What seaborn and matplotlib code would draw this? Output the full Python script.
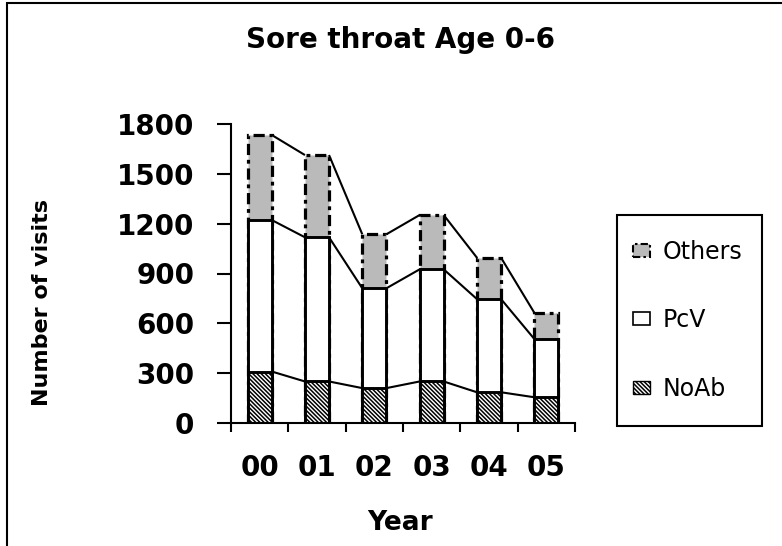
import numpy as np
import pandas as pd
import matplotlib
matplotlib.use('Agg')
import matplotlib.pyplot as plt
import seaborn as sns
from matplotlib import font_manager
from matplotlib.patches import Rectangle, Patch

# ---- data ----
years = ['00', '01', '02', '03', '04', '05']
noab = [310, 250, 210, 250, 185, 155]
pcv = [912, 868, 601, 675, 561, 351]
others = [512, 495, 325, 327, 249, 158]
series_names = ['Others', 'PcV', 'NoAb']
yticks = [0, 300, 600, 900, 1200, 1500, 1800]
title = 'Sore throat Age 0-6'
xlabel = 'Year'
ylabel = 'Number of visits'

sns.set_style('ticks')
plt.rcParams['font.family'] = ['DejaVu Sans']
plt.rcParams['hatch.linewidth'] = 1.1
plt.rcParams['hatch.color'] = 'black'
for k in ['text.color', 'axes.labelcolor', 'xtick.color', 'ytick.color', 'axes.edgecolor']:
    plt.rcParams[k] = 'black'

df = pd.DataFrame({'year': years, 'NoAb': noab, 'PcV': pcv, 'Others': others})
df['lvl_noab'] = df['NoAb']
df['lvl_pcv'] = df['NoAb'] + df['PcV']
df['lvl_total'] = df['lvl_pcv'] + df['Others']

W, H = 782, 546
fig = plt.figure(figsize=(W / 100, H / 100), dpi=100)
ax = fig.add_axes([231 / W, 1 - 423 / H, (575 - 231) / W, (423 - 124) / H])

bw = 0.42
dashdot = (0, (3.5, 1.5, 1.2, 1.5))
others_color = '#bababa'
hatch = '\\' * 8
common = dict(x='year', order=years, width=bw, saturation=1, errorbar=None,
              ax=ax, edgecolor='black')
sns.barplot(data=df, y='lvl_total', color=others_color, linewidth=2.3,
            linestyle=dashdot, **common)
sns.barplot(data=df, y='lvl_pcv', color='white', linewidth=2.1, **common)
sns.barplot(data=df, y='lvl_noab', color='white', hatch=hatch, linewidth=2.1, **common)

# series lines connecting stacked segments
for col in ['lvl_noab', 'lvl_pcv', 'lvl_total']:
    vals = df[col].to_numpy()
    for i in range(len(years) - 1):
        ax.plot([i + bw / 2, i + 1 - bw / 2], [vals[i], vals[i + 1]],
                color='black', lw=1.5, zorder=3, solid_capstyle='butt')

ax.set_xlim(-0.5, len(years) - 0.5)
ax.set_ylim(0, 1800)
ax.set_yticks(yticks)
ax.set_yticklabels([str(v) for v in yticks])
ax.set_xticks(np.arange(len(years) + 1) - 0.5)
ax.set_xticklabels([''] * (len(years) + 1))
ax.set_xticks(np.arange(len(years)), minor=True)
ax.set_xticklabels(years, minor=True)
ax.tick_params(axis='x', which='major', length=6.5, width=1.5, direction='out', color='black')
ax.tick_params(axis='x', which='minor', length=0, pad=22, labelsize=20, labelcolor='black')
ax.tick_params(axis='y', length=10, width=1.5, pad=16.5, labelsize=20, direction='out',
               color='black', labelcolor='black')
for t in ax.get_xticklabels(minor=True) + ax.get_yticklabels():
    t.set_fontweight('bold')
ax.set_xlabel('')
ax.set_ylabel('')
sns.despine(ax=ax)
for s in ['left', 'bottom']:
    ax.spines[s].set_linewidth(1.5)
    ax.spines[s].set_color('black')

# fonts for the y label
names = {f.name for f in font_manager.fontManager.ttflist}
if 'Liberation Sans Narrow' in names:
    yfam, ysz = ['Liberation Sans Narrow', 'DejaVu Sans'], 21
else:
    yfam, ysz = ['DejaVu Sans'], 16

fig.text(400 / W, 1 - 40 / H, title, ha='center', va='center', fontsize=20,
         fontweight='bold', color='black')
fig.text(400 / W, 1 - 523 / H, xlabel, ha='center', va='center', fontsize=19,
         fontweight='bold', color='black')
fig.text(42 / W, 1 - 302 / H, ylabel, rotation=90, ha='center', va='center',
         fontsize=ysz, fontweight='bold', family=yfam, color='black')

# figure border (extends past right/bottom edges)
fig.add_artist(Rectangle((7 / W, -0.1), 1.2, 1 - 3 / H + 0.1, transform=fig.transFigure,
                         fill=False, edgecolor='black', linewidth=1.5, zorder=0))

# legend frame
fig.add_artist(Rectangle((617 / W, 1 - 426 / H), (762 - 617) / W, (426 - 215) / H,
                         transform=fig.transFigure, fill=False, edgecolor='black',
                         linewidth=1.5, zorder=2))

handles = [
    Patch(facecolor=others_color, edgecolor='black', linewidth=1.5, linestyle=dashdot),
    Patch(facecolor='white', edgecolor='black', linewidth=1.2),
    Patch(facecolor='white', edgecolor='black', linewidth=1.0, hatch=hatch),
]
leg = fig.legend(handles, series_names, loc='upper left',
                 bbox_to_anchor=(633 / W, 1 - 240 / H), bbox_transform=fig.transFigure,
                 frameon=False, fontsize=17, handlelength=0.7, handleheight=0.47,
                 handletextpad=0.55, labelspacing=1.88, borderpad=0, borderaxespad=0)
for t in leg.get_texts():
    t.set_color('black')

fig.savefig('out.png', dpi=100)
